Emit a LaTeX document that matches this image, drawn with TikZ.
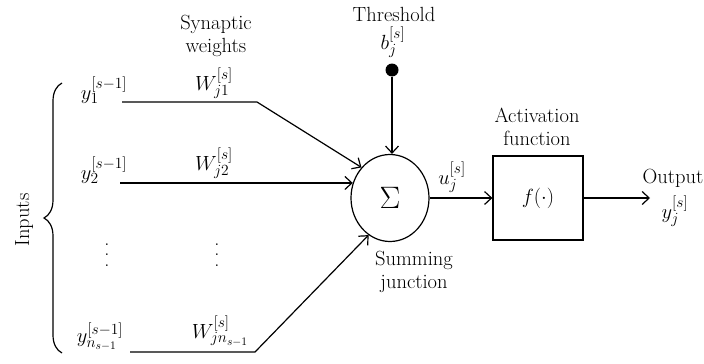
\RequirePackage{fix-cm}
\documentclass[tikz,border=0pt]{standalone}
\usepackage{fontspec}
\DeclareMathSizes{20.5}{20.5}{15.5}{11.5}
\usetikzlibrary{arrows.meta,decorations.pathreplacing,shapes.geometric}
\newcommand{\myvdots}{\vbox{\baselineskip=10.5pt\lineskiplimit=0pt\hbox{.}\hbox{.}\hbox{.}}}
\begin{document}
\begin{tikzpicture}[x=1pt,y=-1pt,
  txt/.style={font=\fontsize{20.5}{23}\selectfont, align=center, inner sep=0pt},
  wire/.style={line width=1.2pt},
  arr/.style={wire,-{Straight Barb[length=7pt,width=13pt,line width=1.2pt]}}]
\useasboundingbox (0,0) rectangle (704,364);
% summing junction
\node[ellipse, draw, line width=1.2pt, minimum width=78pt, minimum height=87pt, inner sep=0pt] (sum) at (390,198) {\fontsize{31}{31}\selectfont$\Sigma$};
\node[txt] (sumlbl) at (414,272) {Summing\\junction};
% activation box
\node[draw, line width=1.2pt, minimum width=90pt, minimum height=84pt, txt] (act) at (538,198) {$f(\cdot)$};
\node[txt] (actlbl) at (537,127) {Activation\\function};
% threshold
\node[txt] (thr) at (394,14) {Threshold};
\node[txt] (b) at (393,42) {$b_j^{[s]}$};
\node[circle, fill, inner sep=0pt, minimum size=13pt] (dot) at (392,70) {};
\draw[arr] (dot) -- (dot |- sum.north);
% output
\coordinate (out) at (650,198);
\draw[arr] (sum.east) -- (act.west);
\node[txt] (u) at (452,177) {$u_j^{[s]}$};
\draw[arr] (act.east) -- (out);
\node[txt] (outlbl) at (673,178) {Output};
\node[txt] (yout) at (675,211) {$y_j^{[s]}$};
% inputs
\node[txt] (y1) at (104,90) {$y_1^{[s-1]}$};
\node[txt] (y2) at (104,170) {$y_2^{[s-1]}$};
\node[txt] (yn) at (100,337) {$y_{n_{s-1}}^{[s-1]}$};
\node[txt] (vd1) at (107,255) {\myvdots};
\node[txt] (vd2) at (217,255) {\myvdots};
\node[txt] (w1) at (214,83) {$W_{j1}^{[s]}$};
\node[txt] (w2) at (214,163) {$W_{j2}^{[s]}$};
\node[txt] (wn) at (220,331) {$W_{jn_{s-1}}^{[s]}$};
\node[txt] (syn) at (216,36) {Synaptic\\weights};
\coordinate (a1) at (122,102);
\coordinate (b1) at (257,102);
\coordinate (a2) at (120,183);
\coordinate (an) at (130,352);
\coordinate (bn) at (255,352);
\draw[arr] (a1) -- (b1) -- (sum.133);
\draw[arr] (sum.158 -| a2) -- (sum.158);
\draw[arr] (an) -- (bn) -- (sum.240);
% brace
\draw[decorate, decoration={brace, amplitude=18pt, mirror}, line width=1.2pt] (62,83) -- (62,353);
\node[txt, rotate=90] (inputs) at (24,220) {Inputs};
\end{tikzpicture}
\end{document}
